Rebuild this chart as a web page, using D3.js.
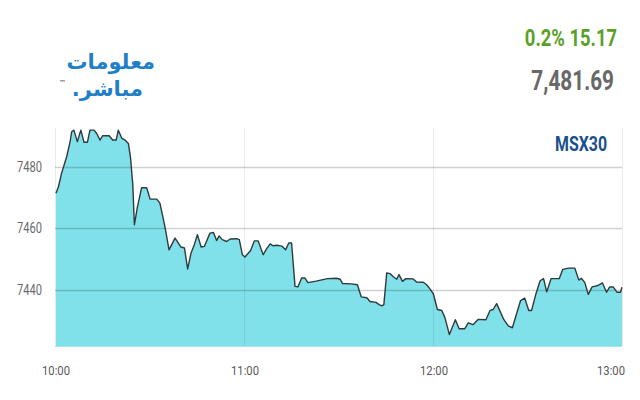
<!DOCTYPE html>
<html>
<head>
<meta charset="utf-8">
<script src="https://cdn.jsdelivr.net/npm/d3@7"></script>
<style>
  html, body { margin: 0; padding: 0; background: #fff; }
  svg { display: block; }
</style>
</head>
<body>
<svg id="chart" width="640" height="400"></svg>
<script>
// ---- data ----
const indexName = "MSX30";
const lastValue = "7,481.69";
const changeText = "0.2% 15.17";
const xTickLabels = ["10:00", "11:00", "12:00", "13:00"];
const xTickMinutes = [0, 60, 120, 180];
const yTickValues = [7440, 7460, 7480];
// minutes since 10:00
const minutes = [0.3,1.1,2.1,3.7,4.8,5.3,6.0,7.1,8.2,9.2,10.3,11.1,12.4,13.2,14.3,15.1,17.2,18.3,19.4,20.1,21.2,22.2,23.3,24.0,24.7,25.2,26.1,27.5,29.1,30.2,32.3,33.3,34.9,36.2,38.1,40.0,41.1,42.1,43.2,44.2,45.2,46.4,47.4,49.2,50.3,51.3,52.1,53.1,54.5,55.6,57.7,58.5,59.5,60.3,61.4,62.1,63.3,64.5,66.1,67.2,68.3,69.3,70.5,72.0,73.2,74.2,75.1,76.2,77.1,78.3,79.3,80.3,82.9,86.5,89.4,90.5,91.3,94.0,96.0,97.2,99.0,100.0,101.9,102.9,103.8,104.4,105.3,106.4,107.4,108.5,109.2,110.3,111.4,113.7,114.8,116.9,118.0,119.1,120.1,121.4,122.8,123.8,125.2,127.1,128.3,130.1,131.2,132.7,134.3,136.8,138.1,139.1,140.2,141.3,142.5,143.9,145.2,146.7,147.8,149.1,150.4,151.3,152.6,154.0,155.1,156.1,157.5,160.1,161.2,163.0,165.0,166.3,167.1,168.2,169.3,170.5,171.8,172.7,173.8,175.1,176.1,177.2,178.4,179.5,180.0];
const values = [7471.4,7473.5,7477.9,7483.2,7488.1,7491.3,7491.8,7488.1,7491.8,7487.9,7487.9,7491.8,7491.8,7490.8,7488.6,7490.0,7490.0,7488.6,7488.6,7491.8,7489.2,7488.6,7487.5,7482.7,7474.1,7461.2,7466.6,7473.2,7473.2,7469.5,7469.5,7468.2,7460.6,7453.1,7456.9,7454.0,7453.7,7446.9,7452.1,7454.7,7458.0,7454.0,7454.2,7458.5,7458.7,7456.1,7457.6,7456.4,7455.8,7456.6,7456.7,7456.4,7451.5,7450.8,7452.1,7452.9,7456.0,7456.0,7451.5,7453.5,7455.0,7454.4,7454.6,7454.3,7453.1,7455.3,7455.3,7441.3,7441.1,7444.0,7444.0,7442.5,7443.0,7443.8,7443.9,7443.6,7442.2,7442.1,7441.8,7437.9,7437.6,7436.4,7436.1,7435.4,7435.0,7435.4,7445.6,7445.4,7444.4,7443.6,7445.1,7442.9,7443.8,7443.7,7442.7,7442.6,7441.8,7440.4,7438.9,7433.8,7433.5,7431.1,7425.7,7430.5,7427.6,7427.6,7429.5,7428.9,7430.6,7430.5,7433.5,7433.8,7435.7,7433.2,7430.5,7428.5,7427.9,7433.0,7436.7,7437.5,7433.5,7433.5,7438.6,7443.1,7443.8,7439.5,7443.8,7443.8,7446.8,7447.2,7447.2,7443.3,7443.9,7442.5,7438.7,7441.1,7441.4,7441.8,7442.4,7439.4,7441.1,7441.1,7439.4,7439.4,7441.0];

const data = minutes.map((m, i) => ({ m, v: values[i] }));

const svg = d3.select("#chart");
const L = 55, R = 622, T = 128, B = 346;

const x = d3.scaleLinear().domain([0, 180]).range([L, R]);
const y = d3.scaleLinear().domain([7422, 7492.5]).range([B, T]);

const area = d3.area().x(d => x(d.m)).y0(B).y1(d => y(d.v));
const line = d3.line().x(d => x(d.m)).y(d => y(d.v));

svg.append("path").datum(data).attr("d", area).attr("fill", "#80e1ea");

const grid = svg.append("g");
grid.selectAll("line.h").data(yTickValues).enter().append("line")
  .attr("x1", L).attr("x2", R)
  .attr("y1", d => Math.round(y(d)) + 0.5).attr("y2", d => Math.round(y(d)) + 0.5)
  .attr("stroke", "rgba(0,0,0,0.18)").attr("stroke-width", 1.5);
grid.selectAll("line.v").data(xTickMinutes).enter().append("line")
  .attr("x1", d => Math.round(x(d)) + 0.5).attr("x2", d => Math.round(x(d)) + 0.5)
  .attr("y1", T).attr("y2", B)
  .attr("stroke", "rgba(0,0,0,0.08)").attr("stroke-width", 1);

svg.append("path").datum(data).attr("d", line)
  .attr("fill", "none").attr("stroke", "#2f3a3c").attr("stroke-width", 1.4)
  .attr("stroke-linejoin", "round");

svg.append("line").attr("x1", L).attr("x2", R).attr("y1", B + 0.5).attr("y2", B + 0.5)
  .attr("stroke", "#a8e6ee").attr("stroke-width", 1);

const condensed = "Roboto, 'Liberation Sans', sans-serif";

// y axis labels
svg.append("g").selectAll("text").data(yTickValues).enter().append("text")
  .attr("x", 42).attr("y", d => y(d) + 5)
  .attr("text-anchor", "end")
  .attr("font-family", condensed)
  .attr("font-size", 14).attr("fill", "#6b6b6b")
  .attr("textLength", 25).attr("lengthAdjust", "spacingAndGlyphs")
  .text(d => d);

// x axis labels
svg.append("g").selectAll("text").data(xTickMinutes).enter().append("text")
  .attr("x", (d, i) => i === xTickMinutes.length - 1 ? 625 : x(d) + 1)
  .attr("y", 375)
  .attr("text-anchor", (d, i) => i === xTickMinutes.length - 1 ? "end" : "middle")
  .attr("font-family", condensed)
  .attr("font-size", 13).attr("fill", "#5a5a5a")
  .attr("textLength", 28).attr("lengthAdjust", "spacingAndGlyphs")
  .text((d, i) => xTickLabels[i]);

// index name
svg.append("text").attr("x", 607).attr("y", 151).attr("text-anchor", "end")
  .attr("font-family", condensed).attr("font-weight", "bold")
  .attr("font-size", 21).attr("fill", "#1b4f8c")
  .attr("textLength", 52).attr("lengthAdjust", "spacingAndGlyphs")
  .text(indexName);

// header values (horizontally condensed via transform)
svg.append("g").attr("transform", "translate(617,46) scale(0.8,1)")
  .append("text").attr("x", 0).attr("y", 0).attr("text-anchor", "end")
  .attr("font-family", condensed).attr("font-weight", "bold")
  .attr("font-size", 23).attr("fill", "#5a9f2a")
  .text(changeText);
svg.append("g").attr("transform", "translate(614,90) scale(0.77,1)")
  .append("text").attr("x", 0).attr("y", 0).attr("text-anchor", "end")
  .attr("font-family", condensed).attr("font-weight", "bold")
  .attr("font-size", 27).attr("fill", "#686868")
  .text(lastValue);

// logo
const logo = svg.append("g").attr("fill", "#1f7fc7")
  .attr("font-family", "'DejaVu Sans', sans-serif").attr("font-weight", "bold");
logo.append("text").attr("x", 155).attr("y", 69).attr("text-anchor", "start")
  .attr("direction", "rtl").attr("font-size", 21).text("معلومات");
logo.append("text").attr("x", 143).attr("y", 96).attr("text-anchor", "start")
  .attr("direction", "rtl").attr("font-size", 21).text("مباشر.");
logo.append("text").attr("x", 59).attr("y", 85)
  .attr("font-size", 7).attr("fill", "#777").text("™");
</script>
</body>
</html>
